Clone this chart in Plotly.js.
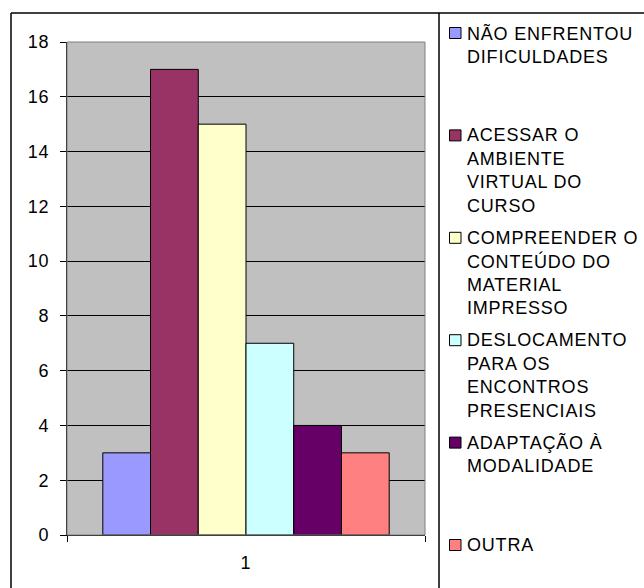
<!DOCTYPE html>
<html>
<head>
<meta charset="utf-8">
<script src="https://cdn.plot.ly/plotly-3.0.1.min.js"></script>
<style>html,body{margin:0;padding:0;background:#fff;}#chart{width:644px;height:588px;}text{letter-spacing:0.8px;}</style>
</head>
<body>
<div id="chart"></div>
<script>
// ---- data ----
const categories = ["1"];
const seriesNames = [
  ["NÃO ENFRENTOU", "DIFICULDADES"],
  ["ACESSAR O", "AMBIENTE", "VIRTUAL DO", "CURSO"],
  ["COMPREENDER O", "CONTEÚDO DO", "MATERIAL", "IMPRESSO"],
  ["DESLOCAMENTO", "PARA OS", "ENCONTROS", "PRESENCIAIS"],
  ["ADAPTAÇÃO À", "MODALIDADE"],
  ["OUTRA"]
];
const seriesValues = [3, 17, 15, 7, 4, 3];
const seriesColors = ["#9999FF", "#993366", "#FFFFCC", "#CCFFFF", "#660066", "#FF8080"];
const yTickValues = [0, 2, 4, 6, 8, 10, 12, 14, 16, 18];

// ---- layout geometry (pixels) ----
const W = 644, H = 588;
const L = 67, R = 425, T = 42, B = 535;
const px = x => (x - L) / (R - L);
const py = y => (B - y) / (B - T);
const FONT = "Liberation Sans, Arial, sans-serif";
const FS = 18;

const traces = seriesValues.map((v, i) => ({
  type: "bar",
  x: categories,
  y: [v],
  name: seriesNames[i].join(" "),
  marker: {color: seriesColors[i], line: {color: "#000", width: 1}},
  showlegend: false,
  hoverinfo: "y+name"
}));

const shapes = [
  // plot-area border (grey)
  {type: "rect", xref: "paper", yref: "paper", x0: 0, x1: 1, y0: 0, y1: 1,
   line: {color: "#808080", width: 1}, layer: "above"},
  // outer chart frame
  {type: "line", xref: "paper", yref: "paper", x0: px(11), x1: px(11), y0: py(13), y1: py(600), line: {color: "#000", width: 1.5}},
  {type: "line", xref: "paper", yref: "paper", x0: px(11), x1: px(660), y0: py(13), y1: py(13), line: {color: "#000", width: 1.5}},
  {type: "line", xref: "paper", yref: "paper", x0: px(439), x1: px(439), y0: py(13), y1: py(600), line: {color: "#000", width: 1.5}}
];

const annotations = [];
const entryTop = 33, entryStep = 102.4, lineStep = 23.5;
seriesNames.forEach((lines, i) => {
  const cy = entryTop + i * entryStep;
  shapes.push({type: "rect", xref: "paper", yref: "paper",
    x0: px(449.5), x1: px(461), y0: py(cy - 5.5), y1: py(cy + 5.5),
    fillcolor: seriesColors[i], line: {color: "#000", width: 1}});
  lines.forEach((t, j) => {
    annotations.push({xref: "paper", yref: "paper", x: px(465), y: py(cy + j * lineStep),
      xanchor: "left", yanchor: "middle", align: "left", text: t, showarrow: false,
      font: {family: FONT, size: FS, color: "#000"}});
  });
});

const layout = {
  width: W, height: H,
  margin: {l: L, r: W - R, t: T, b: H - B, pad: 0},
  paper_bgcolor: "#fff",
  plot_bgcolor: "#C0C0C0",
  barmode: "group",
  bargap: 0.2,
  bargroupgap: 0,
  font: {family: FONT, size: FS, color: "#000"},
  xaxis: {
    type: "category",
    range: [-0.5, 0.5],
    showline: true, linecolor: "#000", linewidth: 1,
    ticks: "outside", tickson: "boundaries", ticklen: 6, tickcolor: "#000",
    showgrid: false, ticklabelstandoff: 11,
    tickfont: {family: FONT, size: FS, color: "#000"}
  },
  yaxis: {
    range: [0, 18],
    tickvals: yTickValues,
    showline: true, linecolor: "#000", linewidth: 1,
    ticks: "outside", ticklen: 6, tickcolor: "#000",
    showgrid: true, gridcolor: "#000", gridwidth: 1,
    zeroline: true, zerolinecolor: "#000", zerolinewidth: 1,
    ticklabelstandoff: 7,
    tickfont: {family: FONT, size: FS, color: "#000"}
  },
  shapes: shapes,
  annotations: annotations
};

Plotly.newPlot("chart", traces, layout, {staticPlot: true, displayModeBar: false});
</script>
</body>
</html>
